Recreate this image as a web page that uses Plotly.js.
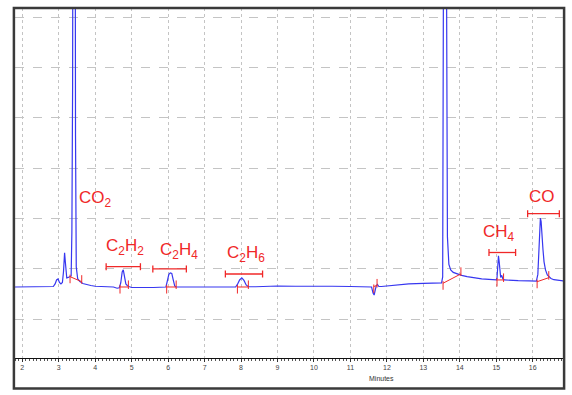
<!DOCTYPE html>
<html>
<head>
<meta charset="utf-8">
<script src="https://cdn.plot.ly/plotly-3.0.1.min.js"></script>
<style>
  html, body { margin: 0; padding: 0; background: #ffffff; }
  #chart { width: 572px; height: 395px; }
</style>
</head>
<body>
<div id="chart"></div>
<script>
// Retention time (minutes) and detector signal
const times = [1.80, 2.00, 2.50, 2.85, 2.90, 2.94, 2.98, 3.02, 3.06, 3.10, 3.13, 3.16, 3.18, 3.20, 3.22, 3.26, 3.30, 3.34, 3.36, 3.38, 3.40, 3.42, 3.44, 3.46, 3.48, 3.52, 3.58, 3.66, 3.76, 3.88, 4.00, 4.20, 4.50, 4.60, 4.66, 4.70, 4.74, 4.77, 4.80, 4.84, 4.88, 4.92, 5.00, 5.20, 5.60, 5.94, 5.98, 6.02, 6.06, 6.10, 6.14, 6.18, 6.22, 6.50, 7.00, 7.85, 7.90, 7.96, 8.02, 8.08, 8.14, 8.20, 8.40, 8.70, 9.00, 9.50, 10.00, 10.50, 11.00, 11.50, 11.58, 11.62, 11.65, 11.68, 11.71, 11.74, 11.78, 11.85, 12.00, 12.30, 12.60, 13.00, 13.30, 13.50, 13.53, 13.55, 13.57, 13.60, 13.63, 13.66, 13.70, 13.75, 13.82, 13.92, 14.05, 14.20, 14.40, 14.60, 14.80, 15.00, 15.02, 15.04, 15.06, 15.08, 15.10, 15.12, 15.15, 15.18, 15.22, 15.30, 15.60, 15.90, 16.10, 16.14, 16.18, 16.21, 16.23, 16.25, 16.28, 16.31, 16.35, 16.40, 16.45, 16.50, 16.58, 16.70, 16.85];
const signal = [0, 0, 0, 0.1, 0.6, 1.4, 1.6, 0.9, 0.6, 0.9, 3.0, 6.8, 5.0, 2.5, 1.8, 1.9, 2.0, 2.2, 10.9, 40, 140, 200, 140, 30, 4.0, 1.6, 1.1, 0.7, 0.45, 0.3, 0.15, 0.05, 0, -0.25, -0.15, 0.8, 3.0, 3.4, 2.2, 0.6, 0.3, 0.1, -0.1, -0.15, -0.1, 0, 1.0, 2.5, 2.8, 2.7, 1.4, 0.2, 0, 0, 0, 0, 0.5, 1.4, 1.8, 1.3, 0.4, 0.05, 0.05, 0.15, 0.2, 0.15, 0.2, 0.15, 0.1, 0.1, 0, -1.2, -1.6, -0.6, 0.3, 0.5, 0.1, 0.1, 0.2, 0.4, 0.6, 0.7, 0.75, 0.8, 2, 60, 200, 200, 60, 10, 4.5, 3.4, 2.9, 2.6, 2.3, 2.05, 1.8, 1.6, 1.5, 1.4, 1.8, 4.5, 6.2, 5.0, 2.2, 1.9, 2.3, 1.6, 1.4, 1.35, 1.25, 1.2, 1.15, 2.5, 9, 13.7, 13.0, 10, 7.5, 5.0, 3.4, 2.4, 2.0, 1.7, 1.45, 1.3, 1.2];

// Integration baselines (start / end of each integrated peak)
const intStartX = [3.31, 4.68, 5.96, 7.90, 11.64, 13.54, 15.02, 16.12];
const intStartY = [2.05, 0, 0, 0, 0.1, 0.75, 1.4, 1.05];
const intEndX   = [3.63, 4.91, 6.22, 8.20, 11.73, 14.03, 15.20, 16.44];
const intEndY   = [1.05, 0, 0, 0, 0.3, 2.6, 1.4, 1.85];

// Peak identification labels and their retention windows
const peakNames  = ["CO<sub>2</sub>", "C<sub>2</sub>H<sub>2</sub>", "C<sub>2</sub>H<sub>4</sub>", "C<sub>2</sub>H<sub>6</sub>", "CH<sub>4</sub>", "CO"];
const labelX     = [3.50, 4.25, 5.71, 7.56, 14.59, 15.83];
const labelY     = [17.4, 8.0, 7.15, 6.6, 10.7, 18.0];
const windowStart = [4.30, 5.58, 7.57, 14.80, 15.86];
const windowEnd   = [5.24, 6.50, 8.59, 15.53, 16.73];
const windowY     = [4.03, 3.58, 2.58, 6.85, 14.55];

const xTicks = [2, 3, 4, 5, 6, 7, 8, 9, 10, 11, 12, 13, 14, 15, 16];

const RED = '#f02828';
const TICK = 1.3; // style: length of integration tick marks (signal units)

// build integration segments
const ibx = [], iby = [], itx = [], ity = [];
for (let i = 0; i < intStartX.length; i++) {
  ibx.push(intStartX[i], intEndX[i], null);
  iby.push(intStartY[i], intEndY[i], null);
  itx.push(intStartX[i], intStartX[i], null, intEndX[i], intEndX[i], null);
  ity.push(intStartY[i] + 0.4, intStartY[i] - TICK, null, intEndY[i] - 0.4, intEndY[i] + TICK, null);
}
const wx = [], wy = [];
for (let i = 0; i < windowStart.length; i++) {
  wx.push(windowStart[i], windowEnd[i], null);
  wy.push(windowY[i], windowY[i], null);
}

const traces = [
  { x: times, y: signal, type: 'scatter', mode: 'lines',
    line: { color: 'rgb(55,55,240)', width: 1.2 }, hoverinfo: 'skip' },
  { x: ibx, y: iby, type: 'scatter', mode: 'lines',
    line: { color: RED, width: 1 }, hoverinfo: 'skip', connectgaps: false },
  { x: itx, y: ity, type: 'scatter', mode: 'lines',
    line: { color: RED, width: 1 }, hoverinfo: 'skip', connectgaps: false },
  { x: wx, y: wy, type: 'scatter', mode: 'lines+markers',
    line: { color: RED, width: 1.3 },
    marker: { symbol: 'line-ns-open', size: 5, color: RED, line: { color: RED, width: 1.3 } },
    hoverinfo: 'skip', connectgaps: false }
];

const annotations = peakNames.map((n, i) => ({
  x: labelX[i], y: labelY[i], xref: 'x', yref: 'y', text: n, showarrow: false,
  xanchor: 'left', yanchor: 'middle',
  font: { family: 'Liberation Sans, Arial, sans-serif', size: 17, color: RED }
}));
annotations.push({
  x: 11.85, y: -0.058, xref: 'x', yref: 'paper', text: 'Minutes', showarrow: false,
  xanchor: 'center', yanchor: 'middle',
  font: { family: 'Liberation Sans, Arial, sans-serif', size: 7, color: '#333' }
});

const layout = {
  width: 572, height: 395,
  margin: { l: 15, r: 9, t: 8, b: 37, pad: 0 },
  paper_bgcolor: '#ffffff', plot_bgcolor: '#ffffff',
  showlegend: false,
  xaxis: {
    range: [1.80, 16.83], tickvals: xTicks, ticktext: xTicks.map(String),
    showgrid: true, gridcolor: '#c4c4c4', griddash: 'dot', gridwidth: 1,
    zeroline: false, showline: true, linecolor: '#111', linewidth: 1,
    ticks: 'outside', ticklen: 3, tickcolor: '#333', tickwidth: 1,
    minor: { dtick: 0.1, tick0: 0, ticks: 'outside', ticklen: 2, tickcolor: '#555', showgrid: false },
    tickfont: { family: 'Liberation Sans, Arial, sans-serif', size: 7, color: '#444' },
    fixedrange: true
  },
  yaxis: {
    range: [-14.1, 55.4], tick0: 3.6, dtick: 10,
    showgrid: true, gridcolor: '#c4c4c4', griddash: 'dash', gridwidth: 1,
    zeroline: false, showline: false, showticklabels: false, ticks: '',
    fixedrange: true
  },
  shapes: [
    { type: 'rect', xref: 'paper', yref: 'paper', x0: -0.002, x1: 1.002, y0: -0.087, y1: 1.0,
      line: { color: '#3a3a3a', width: 2.5 }, fillcolor: 'rgba(0,0,0,0)' }
  ],
  annotations: annotations
};

Plotly.newPlot('chart', traces, layout, { displayModeBar: false, staticPlot: true });
</script>
</body>
</html>
